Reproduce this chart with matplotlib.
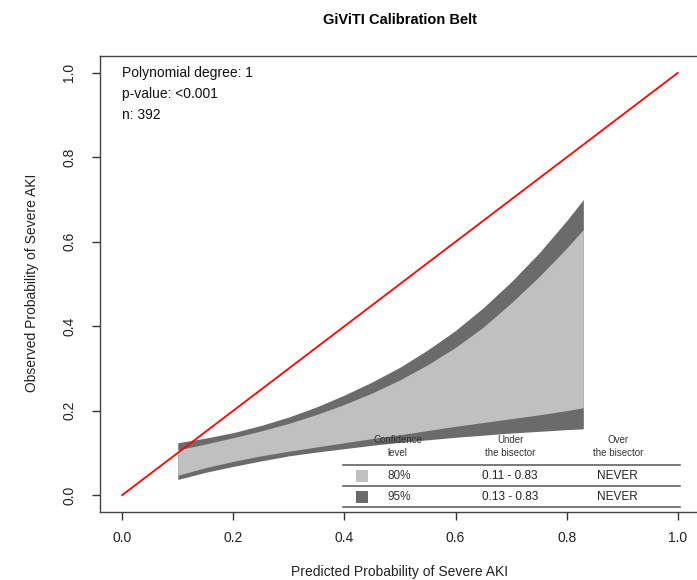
import numpy as np
import matplotlib.pyplot as plt

plt.rcParams['font.family'] = ['Liberation Sans', 'DejaVu Sans']

# belt
x = [0.10, 0.15, 0.20, 0.25, 0.30, 0.35, 0.40, 0.45, 0.50, 0.55, 0.60, 0.65, 0.70, 0.75, 0.80, 0.83]
up95 = [0.124, 0.135, 0.148, 0.165, 0.185, 0.209, 0.237, 0.268, 0.303, 0.344, 0.390, 0.444, 0.505, 0.573, 0.650, 0.700]
up80 = [0.107, 0.121, 0.136, 0.152, 0.170, 0.191, 0.215, 0.242, 0.273, 0.309, 0.350, 0.398, 0.455, 0.517, 0.585, 0.629]
lo80 = [0.047, 0.065, 0.080, 0.093, 0.104, 0.114, 0.124, 0.134, 0.143, 0.153, 0.163, 0.172, 0.181, 0.190, 0.200, 0.207]
lo95 = [0.037, 0.054, 0.068, 0.081, 0.093, 0.102, 0.110, 0.118, 0.125, 0.131, 0.137, 0.142, 0.147, 0.151, 0.155, 0.157]

stats = ["Polynomial degree: 1", "p-value: <0.001", "n: 392"]
levels = ["80%", "95%"]
under = ["0.11 - 0.83", "0.13 - 0.83"]
over = ["NEVER", "NEVER"]

light = '#c0c0c0'
dark = '#6b6b6b'

fig = plt.figure(figsize=(6.97, 5.80), dpi=100)
ax = fig.add_axes([100/697, 68/580, 600/697, 456/580])

ax.fill_between(x, lo95, up95, color=dark, lw=0)
ax.fill_between(x, lo80, up80, color=light, lw=0)
ax.plot([0, 1], [0, 1], color='red', lw=1.3)

ax.set_xlim(-0.04, 1.04)
ax.set_ylim(-0.04, 1.04)
ticks = [0.0, 0.2, 0.4, 0.6, 0.8, 1.0]
ax.set_xticks(ticks)
ax.set_yticks(ticks)
ax.set_xticklabels([f"{t:.1f}" for t in ticks])
ax.set_yticklabels([f"{t:.1f}" for t in ticks], rotation=90, va='center')
ax.tick_params(length=6, width=1, color='#333333', labelsize=10, labelcolor='#222222')
ax.tick_params(axis='x', pad=8)
ax.tick_params(axis='y', pad=11)
for s in ax.spines.values():
    s.set_color('#444444')
    s.set_linewidth(1)

# stats text top left
for i, t in enumerate(stats):
    ax.text(0.0, 1.0 - i * 0.05, t, fontsize=10, va='center', ha='left', color='#111111')

# table
hy1, hy2 = 0.131, 0.100
cols = [0.496, 0.698, 0.892]
heads = [("Confidence", "level"), ("Under", "the bisector"), ("Over", "the bisector")]
for cx, (a, b) in zip(cols, heads):
    ax.text(cx, hy1, a, fontsize=7, ha='center', va='center', color='#333333')
    ax.text(cx, hy2, b, fontsize=7, ha='center', va='center', color='#333333')
for ly in [0.071, 0.021, -0.028]:
    ax.plot([0.397, 1.004], [ly, ly], color='#555555', lw=1.1, clip_on=False)
rows_y = [0.046, -0.004]
for ry, lev, u, o, c in zip(rows_y, levels, under, over, [light, dark]):
    ax.scatter([0.432], [ry], marker='s', s=70, color=c, lw=0)
    ax.text(0.478, ry, lev, fontsize=8.5, ha='left', va='center', color='#333333')
    ax.text(cols[1], ry, u, fontsize=8.5, ha='center', va='center', color='#222222')
    ax.text(cols[2], ry, o, fontsize=8.5, ha='center', va='center', color='#222222')

fig.text(400/697, 1 - 20/580, "GiViTI Calibration Belt", fontsize=10.5, fontweight='bold',
         ha='center', va='center')
fig.text(400/697, 1 - 572/580, "Predicted Probability of Severe AKI", fontsize=10,
         ha='center', va='center', color='#222222')
fig.text(32/697, 1 - 283/580, "Observed Probability of Severe AKI", fontsize=10,
         ha='center', va='center', rotation=90, color='#222222')

fig.savefig('out.png', dpi=100)
